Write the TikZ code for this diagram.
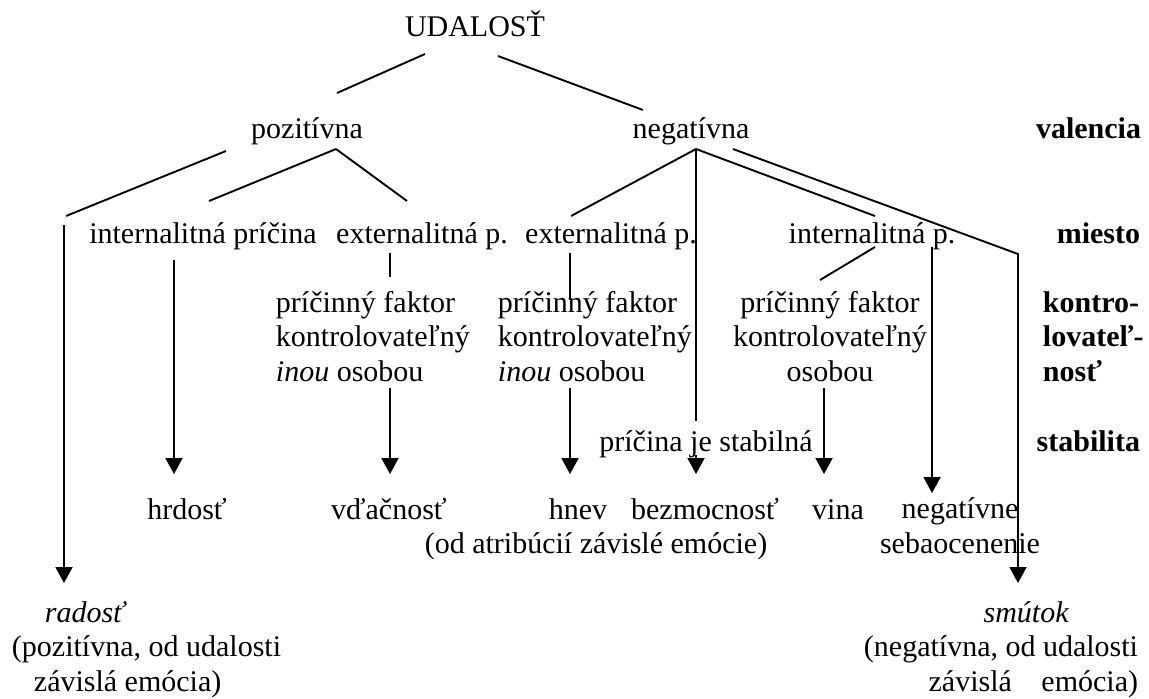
\documentclass[tikz,border=0pt]{standalone}
\usepackage{fontspec}
\setmainfont{Liberation Serif}
\usetikzlibrary{arrows.meta}

\begin{document}
\begin{tikzpicture}[x=0.5pt, y=-0.5pt, line width=0.95pt,
    every node/.style={inner sep=0pt, anchor=base, font=\fontsize{15}{17.25}\selectfont},
    lab/.style={font=\fontsize{15}{17.25}\selectfont\bfseries, anchor=base east},
    arr/.style={-{Triangle[width=8.5pt,length=8pt]}}]
    \useasboundingbox (0,0) rectangle (1149,698);

    \node (udal) at (475,36.5) {UDALOSŤ};
    \node (poz) at (307,138) {pozitívna};
    \node (neg) at (691,138) {negatívna};
    \node[lab] (val) at (1142,138) {valencia};

    \node (intp) at (203,243) {internalitná príčina};
    \node (ext1) at (422,243) {externalitná p.};
    \node (ext2) at (611,243) {externalitná p.};
    \node (int2) at (872,243) {internalitná p.};
    \node[lab] (mies) at (1141,243) {miesto};

    \node[anchor=base west, align=left] (pf1) at (275,381) {príčinný faktor\\kontrolovateľný\\\textit{inou} osobou};
    \node[anchor=base west, align=left] (pf2) at (497,381) {príčinný faktor\\kontrolovateľný\\\textit{inou} osobou};
    \node[align=center] (pf3) at (830,381) {príčinný faktor\\kontrolovateľný\\osobou};
    \node[lab, anchor=base west, align=left] (kont) at (1042,381) {kontro-\\lovateľ-\\nosť};

    \node (stab) at (706,451) {príčina je stabilná};
    \node[lab] (stabl) at (1141,451) {stabilita};

    \node (hrd) at (187,519) {hrdosť};
    \node (vdac) at (389,519) {vďačnosť};
    \node (hnev) at (578,519) {hnev};
    \node (bezm) at (705,519) {bezmocnosť};
    \node (vina) at (838,519) {vina};
    \node[align=center] (nsebo) at (960,553) {negatívne\\sebaocenenie};
    \node (odatr) at (596,553) {(od atribúcií závislé emócie)};

    \node[anchor=base west, align=left] (rad) at (11,691) {\hspace*{16.5pt}\textit{radosť}\\(pozitívna, od udalosti\\\hspace*{11pt}závislá emócia)};
    \node[anchor=base east, align=right] (smut) at (1139,691) {\textit{smútok}\hspace*{34.5pt}\\(negatívna, od udalosti\\závislá\hspace*{11pt} emócia)};

    \draw ([shift={(-50,17.5)}]udal.base) -- ([shift={(30,-45)}]poz.base);
    \draw ([shift={(23,19.5)}]udal.base) -- ([shift={(-48,-28)}]neg.base);

    \draw ([shift={(-81,13)}]poz.base) -- ([shift={(-137,-27)}]intp.base);
    \draw[arr] ([shift={(-139,-18)}]intp.base) -- ([shift={(53,-108)}]rad.base west);
    \draw ([shift={(29,11)}]poz.base) -- ([shift={(6,-42)}]intp.base);
    \draw ([shift={(29,11)}]poz.base) -- ([shift={(-15,-42)}]ext1.base);
    \draw[arr] ([shift={(-29,17)}]intp.base) -- ([shift={(-13,-45)}]hrd.base);
    \draw ([shift={(-32,10)}]ext1.base) -- ([shift={(115,-104)}]pf1.base west);
    \draw[arr] ([shift={(115,7)}]pf1.base west) -- ([shift={(1,-45)}]vdac.base);

    \draw ([shift={(5,11)}]neg.base) -- ([shift={(-40,-27)}]ext2.base);
    \draw ([shift={(5,11)}]neg.base) -- ([shift={(-10,-30)}]stab.base);
    \draw[arr] ([shift={(-10,4)}]stab.base) -- ([shift={(-9,-45)}]bezm.base);
    \draw ([shift={(5,11)}]neg.base) -- ([shift={(3,-27)}]int2.base);
    \draw[arr] ([shift={(42,11)}]neg.base) -- ([shift={(-121,-437)}]smut.base east) -- ([shift={(-121,-108)}]smut.base east);
    \draw ([shift={(-41,10)}]ext2.base) -- ([shift={(73,-81)}]pf2.base west);
    \draw[arr] ([shift={(73,7)}]pf2.base west) -- ([shift={(-8,-45)}]hnev.base);
    \draw ([shift={(3,4)}]int2.base) -- ([shift={(-10,-101)}]pf3.base);
    \draw[arr] ([shift={(60,4)}]int2.base) -- ([shift={(-28,-60)}]nsebo.base);
    \draw[arr] ([shift={(-6,7)}]pf3.base) -- ([shift={(-14,-45)}]vina.base);
\end{tikzpicture}
\end{document}
